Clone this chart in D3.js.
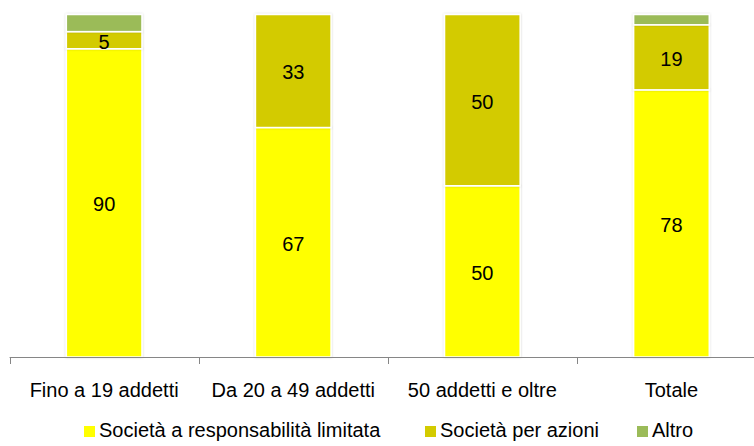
<!DOCTYPE html>
<html>
<head>
<meta charset="utf-8">
<script src="https://cdn.jsdelivr.net/npm/d3@7"></script>
<style>
  html, body { margin: 0; padding: 0; background: #fff; }
  svg { display: block; }
  text { font-family: "Liberation Sans", Arial, sans-serif; }
</style>
</head>
<body>
<svg id="chart" width="754" height="446"></svg>
<script>
// Classes of firm size and the legal-form shares (%) within each class
const categories = ["Fino a 19 addetti", "Da 20 a 49 addetti", "50 addetti e oltre", "Totale"];
const seriesNames = ["Società a responsabilità limitata", "Società per azioni", "Altro"];
const srl = [90, 67, 50, 78];
const spa = [5, 33, 50, 19];
const altro = [5, 0, 0, 3];
const colors = ["#FFFF00", "#D3CB00", "#9BBB59"];

const rows = categories.map((c, i) => ({ cat: c, s0: srl[i], s1: spa[i], s2: altro[i] }));
const keys = ["s0", "s1", "s2"];

const svg = d3.select("#chart");
const margin = { left: 9.6, right: -12, top: 14.5, bottom: 89 };
const W = 754, H = 446;
const plotBottom = H - margin.bottom;

const x = d3.scaleBand().domain(categories).range([margin.left, W - margin.right]).paddingInner(0.6).paddingOuter(0.3);
const y = d3.scaleLinear().domain([0, 100]).range([plotBottom, margin.top]);

// soft shadow around each segment
const defs = svg.append("defs");
const f = defs.append("filter").attr("id", "sh").attr("x", "-20%").attr("y", "-20%").attr("width", "140%").attr("height", "140%");
f.append("feDropShadow").attr("dx", 0).attr("dy", 0).attr("stdDeviation", 1.2).attr("flood-color", "#000").attr("flood-opacity", 0.18);

const stacked = d3.stack().keys(keys)(rows);

const g = svg.append("g");
stacked.forEach((layer, li) => {
  g.append("g").selectAll("rect")
    .data(layer.filter(d => d[1] - d[0] > 0))
    .join("rect")
    .attr("x", d => x(d.data.cat))
    .attr("width", x.bandwidth())
    .attr("y", d => y(d[1]))
    .attr("height", d => y(d[0]) - y(d[1]))
    .attr("fill", colors[li])
    .attr("stroke", "#fff")
    .attr("stroke-width", 1.5)
    .attr("filter", "url(#sh)");
});

// value labels for the two main forms
stacked.slice(0, 2).forEach(layer => {
  g.append("g").selectAll("text")
    .data(layer.filter(d => d[1] - d[0] > 0))
    .join("text")
    .attr("x", d => x(d.data.cat) + x.bandwidth() / 2)
    .attr("y", d => (y(d[0]) + y(d[1])) / 2)
    .attr("dy", "0.42em")
    .attr("text-anchor", "middle")
    .attr("font-size", 20)
    .attr("fill", "#000")
    .text(d => d[1] - d[0]);
});

// category axis
const step = x.step();
const axisG = svg.append("g").attr("transform", `translate(0,${plotBottom})`);
axisG.append("line").attr("x1", margin.left).attr("x2", W).attr("y1", 0.5).attr("y2", 0.5).attr("stroke", "#868686");
const tickXs = d3.range(categories.length + 1).map(i => margin.left + i * step);
axisG.selectAll("line.tk").data(tickXs).join("line").attr("class", "tk")
  .attr("x1", d => Math.round(d) + 0.5).attr("x2", d => Math.round(d) + 0.5)
  .attr("y1", 0).attr("y2", 7).attr("stroke", "#868686");
axisG.selectAll("text").data(categories).join("text")
  .attr("x", d => x(d) + x.bandwidth() / 2)
  .attr("y", 40)
  .attr("text-anchor", "middle")
  .attr("font-size", 20)
  .attr("fill", "#000")
  .text(d => d);

// legend
const legendX = [84, 425, 637];
const lg = svg.append("g").attr("transform", "translate(0,437)");
seriesNames.forEach((n, i) => {
  const it = lg.append("g").attr("transform", `translate(${legendX[i]},0)`);
  it.append("rect").attr("x", 0).attr("y", -11).attr("width", 11).attr("height", 11).attr("fill", colors[i]);
  it.append("text").attr("x", 15).attr("y", 0).attr("font-size", 20).attr("fill", "#000").text(n);
});
</script>
</body>
</html>
